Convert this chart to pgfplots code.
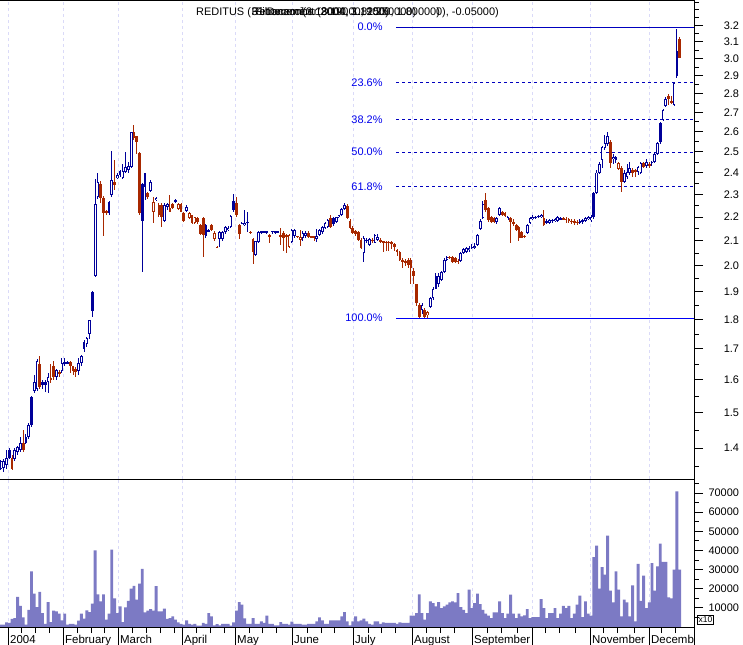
\documentclass[border=0pt]{standalone}
\usepackage{fontspec}
\setmainfont{Liberation Sans}
\usepackage{pgfplots}
\usepackage{pgfplotstable}
\pgfplotsset{compat=1.18}
\definecolor{cblue}{RGB}{0,0,153}
\definecolor{cred}{RGB}{168,40,0}
\definecolor{vol}{RGB}{124,122,196}
\definecolor{fibtxt}{RGB}{0,0,235}
\definecolor{fibline}{RGB}{0,0,190}
\definecolor{fibbot}{RGB}{0,0,245}
\definecolor{gridc}{RGB}{218,218,248}

% k: 1 blue filled, 2 blue hollow, 3 red hollow, 4 red filled
\pgfplotstableread{
i o h l c k v
0 1.343 1.368 1.340 1.365 2 1200
1 1.345 1.370 1.335 1.365 2 1200
2 1.355 1.395 1.343 1.372 2 2400
3 1.372 1.400 1.370 1.395 1 2100
4 1.372 1.380 1.340 1.343 4 4200
5 1.369 1.400 1.365 1.395 2 4700
6 1.390 1.405 1.380 1.403 2 15700
7 1.395 1.430 1.390 1.414 2 11100
8 1.414 1.450 1.390 1.395 4 5000
9 1.414 1.440 1.410 1.430 1 1200
10 1.430 1.470 1.425 1.465 2 9000
11 1.465 1.550 1.460 1.548 1 29000
12 1.565 1.615 1.560 1.594 2 17400
13 1.570 1.665 1.565 1.660 2 10400
14 1.650 1.677 1.570 1.578 4 18300
15 1.585 1.600 1.570 1.594 1 7300
16 1.594 1.600 1.563 1.585 1 1700
17 1.594 1.620 1.560 1.610 2 13000
18 1.605 1.650 1.590 1.600 4 2600
19 1.643 1.660 1.600 1.610 4 8500
20 1.610 1.635 1.600 1.630 2 8200
21 1.625 1.630 1.610 1.620 4 7000
22 1.628 1.668 1.620 1.653 2 3500
23 1.650 1.668 1.645 1.655 2 7000
24 1.653 1.660 1.650 1.655 2 1200
25 1.655 1.660 1.620 1.643 4 1700
26 1.643 1.645 1.615 1.628 4 1700
27 1.635 1.640 1.610 1.625 4 1200
28 1.628 1.668 1.615 1.653 2 3300
29 1.653 1.680 1.645 1.677 2 7000
30 1.700 1.730 1.690 1.724 1 4400
31 1.717 1.740 1.705 1.737 2 8700
32 1.751 1.800 1.733 1.800 2 7800
33 1.829 1.904 1.810 1.900 1 12200
34 1.960 2.370 1.955 2.257 2 40000
35 2.288 2.400 2.280 2.356 2 17000
36 2.347 2.360 2.260 2.284 4 13400
37 2.284 2.290 2.120 2.218 4 17000
38 2.226 2.230 2.210 2.218 4 3800
39 2.218 2.270 2.210 2.266 1 7000
40 2.297 2.503 2.290 2.365 2 40400
41 2.356 2.460 2.320 2.343 4 15000
42 2.374 2.400 2.370 2.388 2 7300
43 2.388 2.410 2.380 2.406 1 10800
44 2.374 2.440 2.370 2.406 2 2600
45 2.402 2.500 2.400 2.426 2 10300
46 2.410 2.450 2.400 2.430 2 13700
47 2.426 2.600 2.420 2.598 2 20000
48 2.598 2.634 2.560 2.568 4 21500
49 2.578 2.580 2.490 2.548 4 14300
50 2.494 2.500 2.210 2.218 4 22600
51 2.183 2.350 1.976 2.347 1 30300
52 2.400 2.400 2.275 2.333 1 7600
53 2.306 2.310 2.280 2.290 4 8500
54 2.315 2.365 2.310 2.356 2 9400
55 2.222 2.290 2.175 2.266 3 8500
56 2.275 2.290 2.270 2.284 2 21300
57 2.252 2.260 2.200 2.209 4 8200
58 2.252 2.260 2.158 2.200 4 8200
59 2.183 2.260 2.180 2.252 2 9600
60 2.244 2.260 2.231 2.257 2 4200
61 2.239 2.297 2.220 2.222 4 4700
62 2.257 2.260 2.235 2.239 4 5600
63 2.275 2.280 2.262 2.266 1 3800
64 2.235 2.260 2.230 2.257 3 2400
65 2.257 2.260 2.220 2.222 4 1700
66 2.218 2.220 2.180 2.183 4 1200
67 2.226 2.250 2.220 2.244 2 3500
68 2.196 2.220 2.190 2.218 3 1700
69 2.209 2.210 2.170 2.175 4 1200
70 2.175 2.200 2.170 2.200 3 1700
71 2.196 2.200 2.170 2.179 4 700
72 2.166 2.170 2.125 2.128 4 700
73 2.196 2.200 2.035 2.124 4 2100
74 2.166 2.170 2.110 2.120 1 1700
75 2.140 2.150 2.140 2.145 2 7300
76 2.166 2.170 2.140 2.145 4 5600
77 2.108 2.140 2.100 2.133 3 900
78 2.075 2.080 2.070 2.071 4 1500
79 2.108 2.140 2.075 2.137 2 900
80 2.108 2.140 2.100 2.137 2 1700
81 2.137 2.160 2.130 2.158 2 1700
82 2.145 2.160 2.140 2.154 2 1700
83 2.158 2.210 2.155 2.205 2 700
84 2.270 2.300 2.220 2.231 1 2400
85 2.260 2.290 2.200 2.209 4 8500
86 2.166 2.170 2.108 2.128 4 13000
87 2.170 2.180 2.170 2.175 2 11700
88 2.166 2.231 2.160 2.175 2 4500
89 2.175 2.222 2.137 2.179 2 1700
90 2.137 2.140 2.130 2.133 4 1700
91 2.108 2.110 2.007 2.055 4 4700
92 2.043 2.100 2.040 2.100 2 1700
93 2.096 2.140 2.090 2.137 2 1700
94 2.135 2.140 2.130 2.137 2 3000
95 2.137 2.140 2.135 2.137 2 2100
96 2.135 2.140 2.130 2.137 2 5900
97 2.124 2.130 2.090 2.116 4 1700
98 2.137 2.140 2.130 2.140 2 1700
99 2.135 2.140 2.130 2.137 2 900
100 2.135 2.140 2.132 2.137 2 900
101 2.124 2.154 2.083 2.116 4 2600
102 2.133 2.140 2.060 2.112 4 1700
103 2.124 2.130 2.051 2.116 4 1700
104 2.075 2.130 2.070 2.124 3 1200
105 2.096 2.150 2.090 2.145 2 2800
106 2.120 2.150 2.110 2.145 2 1700
107 2.120 2.120 2.110 2.116 4 1700
108 2.104 2.145 2.080 2.116 3 1700
109 2.112 2.140 2.100 2.133 2 1200
110 2.120 2.140 2.110 2.133 2 1200
111 2.133 2.140 2.110 2.116 4 1700
112 2.117 2.120 2.110 2.116 4 1700
113 2.120 2.120 2.100 2.112 4 1700
114 2.108 2.150 2.096 2.120 2 3000
115 2.124 2.150 2.120 2.145 2 5000
116 2.137 2.160 2.130 2.158 2 3500
117 2.154 2.180 2.150 2.175 2 1700
118 2.158 2.190 2.155 2.187 2 1700
119 2.196 2.210 2.155 2.158 4 3500
120 2.196 2.200 2.160 2.170 1 3500
121 2.180 2.200 2.175 2.200 2 3500
122 2.200 2.210 2.195 2.209 2 3500
123 2.209 2.240 2.205 2.235 2 5600
124 2.235 2.260 2.230 2.252 2 7800
125 2.250 2.255 2.190 2.196 4 3000
126 2.183 2.190 2.150 2.154 4 900
127 2.154 2.160 2.130 2.133 4 3000
128 2.140 2.145 2.120 2.128 4 5600
129 2.137 2.140 2.100 2.104 4 3000
130 2.104 2.110 2.065 2.071 4 3500
131 2.051 2.120 2.015 2.112 2 4400
132 2.100 2.110 2.090 2.104 2 3000
133 2.083 2.110 2.080 2.108 2 1700
134 2.104 2.110 2.090 2.100 4 1200
135 2.092 2.130 2.090 2.124 2 3000
136 2.104 2.130 2.100 2.116 2 3000
137 2.104 2.110 2.090 2.096 4 1700
138 2.097 2.100 2.055 2.096 4 2400
139 2.096 2.100 2.060 2.092 4 2100
140 2.096 2.100 2.060 2.092 4 2100
141 2.096 2.100 2.065 2.088 4 2100
142 2.088 2.090 2.060 2.075 4 2100
143 2.063 2.065 2.040 2.055 4 1700
144 2.055 2.060 2.020 2.023 4 2400
145 2.023 2.030 1.992 2.015 4 2100
146 2.020 2.025 2.000 2.010 4 2100
147 2.023 2.030 1.990 2.003 4 2100
148 2.023 2.030 1.930 1.992 4 5900
149 1.980 1.990 1.930 1.960 4 5900
150 1.930 1.930 1.850 1.860 4 7300
151 1.852 1.860 1.805 1.809 4 17000
152 1.834 1.860 1.820 1.852 2 7300
153 1.834 1.840 1.805 1.809 4 3800
154 1.815 1.830 1.805 1.827 3 7300
155 1.845 1.880 1.840 1.878 2 13400
156 1.878 1.920 1.870 1.911 2 12500
157 1.911 1.970 1.910 1.961 1 10800
158 1.930 1.970 1.920 1.961 2 13000
159 1.945 1.980 1.940 1.976 2 9900
160 1.976 2.030 1.970 2.023 2 10800
161 2.023 2.040 2.020 2.035 2 11700
162 2.035 2.040 2.025 2.031 4 12900
163 2.035 2.040 2.010 2.015 4 13400
164 2.030 2.035 2.010 2.015 4 12900
165 2.020 2.025 2.005 2.015 4 17700
166 2.020 2.055 2.015 2.051 2 10400
167 2.050 2.070 2.045 2.067 2 9000
168 2.055 2.075 2.050 2.071 2 7300
169 2.063 2.080 2.055 2.071 2 19500
170 2.071 2.085 2.065 2.075 1 9900
171 2.071 2.090 2.065 2.079 2 12500
172 2.083 2.130 2.080 2.124 2 17400
173 2.150 2.190 2.145 2.183 2 12000
174 2.196 2.270 2.190 2.257 2 9000
175 2.275 2.306 2.220 2.231 4 7000
176 2.239 2.245 2.180 2.187 4 6000
177 2.200 2.205 2.175 2.179 4 4700
178 2.196 2.200 2.175 2.180 4 7700
179 2.179 2.200 2.170 2.196 2 7700
180 2.209 2.244 2.205 2.239 2 13400
181 2.220 2.225 2.205 2.209 4 7300
182 2.218 2.220 2.200 2.205 4 4700
183 2.187 2.205 2.185 2.200 2 7000
184 2.196 2.200 2.092 2.179 4 16900
185 2.180 2.190 2.160 2.170 4 7000
186 2.166 2.170 2.140 2.145 4 4700
187 2.158 2.160 2.100 2.112 4 7000
188 2.137 2.140 2.110 2.112 4 5600
189 2.120 2.125 2.110 2.116 4 6100
190 2.133 2.170 2.130 2.166 2 9400
191 2.175 2.200 2.170 2.196 2 4700
192 2.190 2.210 2.185 2.200 2 5200
193 2.196 2.205 2.190 2.200 2 5200
194 2.205 2.210 2.195 2.200 1 5200
195 2.200 2.215 2.195 2.209 2 14600
196 2.196 2.231 2.160 2.166 4 9900
197 2.175 2.190 2.170 2.183 2 4700
198 2.175 2.190 2.170 2.187 2 7300
199 2.183 2.190 2.175 2.187 2 7300
200 2.183 2.195 2.180 2.192 2 9900
201 2.183 2.205 2.180 2.200 2 4700
202 2.190 2.200 2.185 2.196 2 7000
203 2.196 2.200 2.185 2.190 4 11100
204 2.192 2.200 2.175 2.187 4 9900
205 2.190 2.195 2.175 2.183 4 11100
206 2.183 2.190 2.170 2.179 4 4700
207 2.180 2.190 2.165 2.179 4 7000
208 2.179 2.185 2.165 2.175 4 11700
209 2.175 2.190 2.170 2.183 2 16400
210 2.179 2.190 2.170 2.187 2 5200
211 2.183 2.200 2.180 2.196 2 13400
212 2.190 2.205 2.185 2.200 2 7000
213 2.187 2.210 2.180 2.200 2 6000
214 2.200 2.310 2.190 2.306 1 36500
215 2.306 2.410 2.300 2.400 2 42500
216 2.400 2.450 2.395 2.440 2 20000
217 2.460 2.530 2.420 2.523 2 31300
218 2.518 2.583 2.510 2.543 2 27300
219 2.538 2.600 2.530 2.578 2 47700
220 2.548 2.560 2.420 2.446 4 19000
221 2.465 2.490 2.440 2.475 2 12900
222 2.475 2.480 2.445 2.460 1 29000
223 2.416 2.450 2.410 2.446 3 19500
224 2.420 2.430 2.311 2.356 4 5600
225 2.356 2.410 2.350 2.398 2 14300
226 2.380 2.440 2.370 2.402 2 12900
227 2.400 2.450 2.390 2.420 2 5600
228 2.412 2.420 2.380 2.398 4 21700
229 2.410 2.415 2.380 2.405 4 2900
230 2.402 2.430 2.390 2.426 2 33000
231 2.400 2.450 2.395 2.446 2 13700
232 2.446 2.450 2.420 2.426 4 26800
233 2.430 2.465 2.420 2.450 2 9900
234 2.440 2.450 2.420 2.430 4 12900
235 2.440 2.455 2.430 2.450 2 33400
236 2.450 2.500 2.445 2.490 2 19000
237 2.490 2.550 2.485 2.543 2 31700
238 2.548 2.650 2.540 2.645 1 43500
239 2.660 2.720 2.655 2.713 2 34000
240 2.734 2.780 2.730 2.771 2 34000
241 2.790 2.800 2.740 2.771 4 15500
242 2.760 2.790 2.745 2.750 4 15000
243 2.740 2.865 2.735 2.860 2 30000
244 2.900 3.180 2.890 3.044 1 70800
245 3.117 3.129 3.000 3.003 4 30000
}\stock

\pgfplotstableread{
x f0 f236 f382 f50 f618 f100
142.6 3.19 2.863 2.661 2.4975 2.334 1.805
250.18 3.19 2.863 2.661 2.4975 2.334 1.805
}\fib

\pgfplotsset{
  cndl/.style n args={3}{draw=none, mark=none, forget plot,
    restrict expr to domain={\thisrow{k}}{#1},
    error bars/.cd, y dir=both, y explicit, error mark=none,
    error bar style={draw=#2, line width=#3, solid}},
  monthgrid/.style={xtick={2.53,22.38,42.24,65.34,84.48,105.05,127.08,148.38,170.04,191.70,212.64,233.94},
    xmajorgrids, major x grid style={gridc, dash pattern=on 3bp off 3bp, line width=0.8bp}},
}

\begin{document}
\begin{tikzpicture}
\begin{axis}[
  at={(0bp,0bp)}, anchor=north west, scale only axis,
  width=694bp, height=479bp,
  xmin=-0.36, xmax=250.18, ymin=0.27567, ymax=1.21305,
  axis line style={draw=none}, clip=false,
  monthgrid, xticklabels={}, xtick style={draw=none},
  ytick={0.33647,0.40547,0.47000,0.53063,0.58779,0.64185,0.69315,0.74194,0.78846,0.83291,0.87547,0.91629,0.95551,0.99325,1.02962,1.06471,1.09861,1.13140,1.16315},
  yticklabels={1.4,1.5,1.6,1.7,1.8,1.9,2.0,2.1,2.2,2.3,2.4,2.5,2.6,2.7,2.8,2.9,3.0,3.1,3.2},
  minor ytick={0.30010,0.37156,0.43825,0.50078,0.55962,0.61519,0.66783,0.71784,0.76547,0.81093,0.85442,0.89609,0.93609,0.97456,1.01160,1.04732,1.08181,1.11514,1.14740,1.17865,1.19392,1.20896},
  ytick pos=right, yticklabel pos=right, tick align=outside,
  major tick length=9bp, minor tick length=4.5bp,
  ytick style={black, line width=0.8bp}, minor y tick style={black, line width=0.8bp},
  yticklabel style={font=\fontsize{11}{13}\selectfont, anchor=east, xshift=39.5bp},
]
\addplot[fibline, line width=0.9bp] table[x=x, y expr={ln(\thisrow{f0})}] {\fib};
\addplot[fibline, line width=0.9bp, dash pattern=on 3bp off 3bp] table[x=x, y expr={ln(\thisrow{f236})}] {\fib};
\addplot[fibline, line width=0.9bp, dash pattern=on 3bp off 3bp] table[x=x, y expr={ln(\thisrow{f382})}] {\fib};
\addplot[fibline, line width=0.9bp, dash pattern=on 3bp off 3bp] table[x=x, y expr={ln(\thisrow{f50})}] {\fib};
\addplot[fibline, line width=0.9bp, dash pattern=on 3bp off 3bp] table[x=x, y expr={ln(\thisrow{f618})}] {\fib};
\addplot[fibbot, line width=1bp] table[x=x, y expr={ln(\thisrow{f100})}] {\fib};

\addplot[cndl={1:2}{cblue}{1bp}] table[x=i, y expr={(ln(\thisrow{h})+ln(\thisrow{l}))/2}, y error expr={(ln(\thisrow{h})-ln(\thisrow{l}))/2}] {\stock};
\addplot[cndl={3:4}{cred}{1bp}] table[x=i, y expr={(ln(\thisrow{h})+ln(\thisrow{l}))/2}, y error expr={(ln(\thisrow{h})-ln(\thisrow{l}))/2}] {\stock};
\addplot[cndl={1:2}{cblue}{2.7bp}] table[x=i, y expr={(ln(\thisrow{o})+ln(\thisrow{c}))/2}, y error expr={max(abs(ln(\thisrow{c})-ln(\thisrow{o}))/2,0.0012)}] {\stock};
\addplot[cndl={3:4}{cred}{2.7bp}] table[x=i, y expr={(ln(\thisrow{o})+ln(\thisrow{c}))/2}, y error expr={max(abs(ln(\thisrow{c})-ln(\thisrow{o}))/2,0.0012)}] {\stock};
\addplot[cndl={2:3}{white}{0.9bp}] table[x=i, y expr={(ln(\thisrow{o})+ln(\thisrow{c}))/2}, y error expr={max(abs(ln(\thisrow{c})-ln(\thisrow{o}))/2-0.0019,0)}] {\stock};

\begin{scope}[font=\fontsize{11}{13}\selectfont, fibtxt]
\node[anchor=east] at (axis cs:139.0,1.16002) {0.0\%};
\node[anchor=east] at (axis cs:139.0,1.05187) {23.6\%};
\node[anchor=east] at (axis cs:139.0,0.97870) {38.2\%};
\node[anchor=east] at (axis cs:139.0,0.91529) {50.0\%};
\node[anchor=east] at (axis cs:139.0,0.84758) {61.8\%};
\node[anchor=east] at (axis cs:139.0,0.59056) {100.0\%};
\end{scope}
\draw[black, line width=1bp] (rel axis cs:0,1) -- (rel axis cs:1,1) -- (rel axis cs:1,0) -- (rel axis cs:0,0);
\end{axis}

% volume panel: bars and value ticks
\begin{axis}[
  at={(0bp,-479bp)}, anchor=north west, scale only axis,
  width=694bp, height=148bp,
  xmin=-0.36, xmax=250.18, ymin=0, ymax=77300,
  axis line style={draw=none}, clip=false,
  monthgrid, xticklabels={}, xtick style={draw=none},
  ybar, bar width=1.04,
  ytick={10000,20000,30000,40000,50000,60000,70000},
  minor ytick={5000,15000,25000,35000,45000,55000,65000,75000},
  scaled y ticks=false,
  ytick pos=right, yticklabel pos=right, tick align=outside,
  major tick length=9bp, minor tick length=4.5bp,
  ytick style={black, line width=0.8bp}, minor y tick style={black, line width=0.8bp},
  /pgf/number format/.cd, 1000 sep={}, assume math mode=true, /pgfplots/.cd,
  yticklabel style={font=\fontsize{11}{13}\selectfont, anchor=east, xshift=39.5bp},
]
\addplot[fill=vol, draw=none] table[x=i, y=v] {\stock};
\draw[black, line width=1bp] (rel axis cs:1,1) -- (rel axis cs:1,0) -- (rel axis cs:0,0);
\end{axis}

% volume panel: date axis
\begin{axis}[
  at={(0bp,-479bp)}, anchor=north west, scale only axis,
  width=694bp, height=148bp,
  xmin=-0.36, xmax=250.18, ymin=0, ymax=77300,
  axis line style={draw=none}, clip=false,
  xtick={2.53,22.38,42.24,65.34,84.48,105.05,127.08,148.38,170.04,191.70,212.64,233.94},
  xticklabels={2004,February,March,April,May,June,July,August,September,{},November,December},
  minor xtick={7.5,12.5,17.5,27.5,32.5,37.5,47.5,52.5,57.5,62.5,70.5,75.5,80.5,89.5,94.5,99.5,110.5,115.5,120.5,132.5,137.5,142.5,153.5,158.5,163.5,175.5,180.5,186.5,196.5,201.5,207.5,217.5,222.5,228.5,238.5,243.5},
  ytick=\empty, xtick pos=bottom, tick align=outside,
  major tick length=18bp, minor tick length=6bp,
  xtick style={black, line width=0.8bp}, minor x tick style={black, line width=0.8bp},
  xticklabel style={font=\fontsize{11.5}{13}\selectfont, anchor=base west, inner sep=0pt, xshift=2bp, yshift=2bp},
]
\end{axis}

% the last month name is cut by the right-hand axis strip
\fill[white] (694.5bp,-627.6bp) rectangle (743bp,-645bp);
\draw[black, line width=1bp] (694bp,-627bp) -- (694bp,-645bp);

% title
\node[anchor=base west, inner sep=0pt, font=\fontsize{11}{13}\selectfont] at (196bp,-15bp) {REDITUS (};
\node[anchor=base west, inner sep=0pt, font=\fontsize{11}{13}\selectfont] at (251bp,-15bp) {\rlap{31 December 2004, 3.19000, 1.80000)}\rlap{Retracement (3.19000, 1.250000)}\rlap{\hspace{4bp}Fibonacci(3.18000, 1.8250)}};
\node[anchor=base east, inner sep=0pt, font=\fontsize{11}{13}\selectfont] at (499bp,-15bp) {0), -0.05000)};
% volume multiplier box
\node[draw=black, line width=0.8bp, inner sep=1.2bp, font=\fontsize{8.5}{9}\selectfont] at (705.5bp,-620bp) {x10};

\pgfresetboundingbox
\useasboundingbox (0bp,0bp) rectangle (743bp,-645bp);
\end{tikzpicture}
\end{document}
